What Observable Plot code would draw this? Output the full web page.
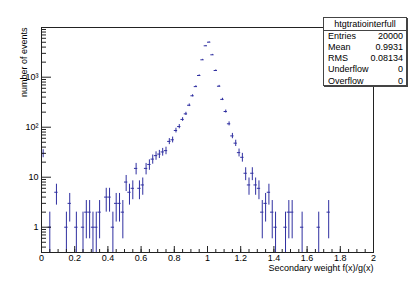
<!DOCTYPE html>
<html><head><meta charset="utf-8">
<script src="https://cdn.jsdelivr.net/npm/d3@7"></script>
<script src="https://cdn.jsdelivr.net/npm/@observablehq/plot@0.6"></script>
<style>
html,body{margin:0;padding:0;background:#fff;}
#wrap{position:relative;width:415px;height:281px;font-family:"Liberation Sans",Arial,Helvetica,sans-serif;color:#000;}
#stats{position:absolute;left:323px;top:17px;width:84px;height:69px;border:1px solid #444;box-shadow:1px 1px 0 #444;background:#fff;font-size:9px;box-sizing:border-box;}
#stats .title{position:absolute;left:0;right:0;top:0;height:12px;line-height:12px;text-align:center;border-bottom:1px solid #444;}
#stats .row{position:absolute;left:4px;right:3px;height:11px;line-height:11px;}
#stats .row span.v{position:absolute;right:0;}
</style>
</head><body>
<div id="wrap"></div>
<script>
// Histogram bin centers (bin width 0.02) and bin contents
const binWidth = 0.02;
const binCenters = [0.01,0.05,0.09,0.15,0.17,0.21,0.25,0.27,0.29,0.31,0.33,0.35,0.39,0.41,0.43,0.45,0.47,0.49,
  0.51,0.53,0.55,0.57,0.59,0.61,0.63,0.65,0.67,0.69,0.71,0.73,0.75,0.77,0.79,0.81,0.83,0.85,0.87,0.89,
  0.91,0.93,0.95,0.97,0.99,1.01,1.03,1.05,1.07,1.09,1.11,1.13,1.15,1.17,1.19,1.21,1.23,1.25,1.27,1.29,
  1.31,1.33,1.35,1.37,1.39,1.41,1.47,1.49,1.51,1.57,1.67,1.73];
const counts = [30,1,5,1,3,1,1,2,2,1,1,2,4,4,1,3,3,2,
  8,5,6,15,6,7,15,18,23,27,29,32,34,52,56,86,103,143,185,275,
  425,648,1081,2228,4246,5012,2805,1361,660,360,206,117,67,48,31,25,12,7,12,7,
  6,2,3,5,2,1,1,2,2,1,1,2];

// Axis ticks
const xTicks = [0,0.2,0.4,0.6,0.8,1,1.2,1.4,1.6,1.8,2];
const xTickLabels = ["0","0.2","0.4","0.6","0.8","1","1.2","1.4","1.6","1.8","2"];
const yTicks = [1,10,100,1000];
const yTickLabels = ["1","10","10\u00B2","10\u00B3"];

// Stats box
const statsTitle = "htgtratiointerfull";
const statsNames = ["Entries","Mean","RMS","Underflow","Overflow"];
const statsValues = ["20000","0.9931","0.08134","0","0"];

const xTitle = "Secondary weight f(x)/g(x)";
const yTitle = "number of events";

const yDomain = [0.312, 9863];
const color = "#2f2fa0";

const data = binCenters.map((x, i) => ({x, n: counts[i]}));

const xMinor = d3.range(0, 2.0001, 0.05);
const yMinor = [];
for (const dec of [0.1, 1, 10, 100, 1000]) for (let k = 2; k <= 9; k++) {
  const v = dec * k; if (v >= yDomain[0] && v <= yDomain[1]) yMinor.push(v);
}

const chart = Plot.plot({
  width: 415, height: 281,
  marginLeft: 41, marginRight: 42, marginTop: 27, marginBottom: 29,
  style: {fontFamily: '"Liberation Sans",Arial,Helvetica,sans-serif', fontSize: "9px", background: "#fff", color: "#000"},
  x: {domain: [0, 2]},
  y: {type: "log", domain: yDomain},
  marks: [
    Plot.ruleX(data, {x: "x", y1: d => Math.max(d.n - Math.sqrt(d.n), yDomain[0]), y2: d => d.n + Math.sqrt(d.n), stroke: color, strokeWidth: 1}),
    Plot.ruleY(data, {y: "n", x1: d => d.x - binWidth / 2, x2: d => d.x + binWidth / 2, stroke: color, strokeWidth: 1}),
    Plot.axisX({ticks: xMinor, tickSize: -3, tickFormat: () => "", label: null, stroke: "#222"}),
    Plot.axisX({ticks: xTicks, tickSize: -6, tickFormat: () => "", label: null, stroke: "#222"}),
    Plot.axisX({ticks: xTicks, tickSize: 0, tickPadding: 2, tickFormat: d => xTickLabels[xTicks.indexOf(d)], label: null}),
    Plot.axisY({ticks: yMinor, tickSize: -5, tickFormat: () => "", label: null, stroke: "#222"}),
    Plot.axisY({ticks: yTicks, tickSize: -10, tickFormat: () => "", label: null, stroke: "#222"}),
    Plot.axisY({ticks: yTicks, tickSize: 0, tickPadding: 3, tickFormat: d => yTickLabels[yTicks.indexOf(d)], label: null}),
    Plot.frame({stroke: "#222"}),
    Plot.text([xTitle], {frameAnchor: "bottom-right", dy: 18, textAnchor: "end", text: d => d, fontSize: 9}),
    Plot.text([yTitle], {frameAnchor: "top-left", dx: -21, rotate: -90, textAnchor: "end", text: d => d, fontSize: 9})
  ]
});

const wrap = document.getElementById("wrap");
wrap.appendChild(chart);

const stats = document.createElement("div");
stats.id = "stats";
const t = document.createElement("div");
t.className = "title"; t.textContent = statsTitle;
stats.appendChild(t);
statsNames.forEach((name, i) => {
  const r = document.createElement("div");
  r.className = "row";
  r.style.top = (12.5 + i * 11.3) + "px";
  const a = document.createElement("span"); a.textContent = name;
  const b = document.createElement("span"); b.className = "v"; b.textContent = statsValues[i];
  r.appendChild(a); r.appendChild(b);
  stats.appendChild(r);
});
wrap.appendChild(stats);
</script>
</body></html>
